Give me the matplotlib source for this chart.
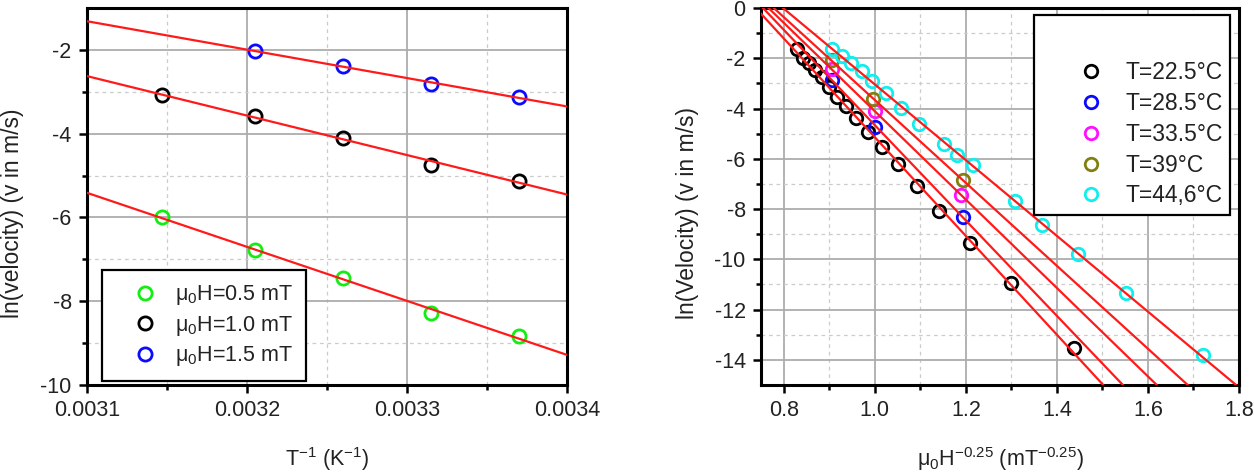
import numpy as np
import matplotlib
matplotlib.use('Agg')
import matplotlib.pyplot as plt
from matplotlib.lines import Line2D
from matplotlib.legend_handler import HandlerLine2D
from matplotlib.ticker import FixedLocator, FormatStrFormatter

plt.rcParams['font.family'] = ['Liberation Sans', 'DejaVu Sans']
plt.rcParams['mathtext.default'] = 'regular'
plt.rcParams['axes.unicode_minus'] = False

# ── datos: panel izquierdo (ln v vs 1/T) ─────────────────────
inv_T = [0.003147, 0.003205, 0.003260, 0.003315, 0.003370]
ln_v_05 = [-6.00, -6.78, -7.45, -8.27, -8.84]
ln_v_10 = [-3.08, -3.59, -4.10, -4.75, -5.12]
inv_T_15 = [0.003205, 0.003260, 0.003315, 0.003370]
ln_v_15 = [-2.02, -2.39, -2.82, -3.12]
campos = ['μ$_0$H=0.5 mT', 'μ$_0$H=1.0 mT', 'μ$_0$H=1.5 mT']

# ── datos: panel derecho (ln v vs H^-1/4) ────────────────────
h_225 = [0.829, 0.842, 0.855, 0.868, 0.883, 0.900, 0.916, 0.936, 0.958,
         0.984, 1.015, 1.051, 1.092, 1.141, 1.209, 1.300, 1.438]
v_225 = [-1.63, -1.97, -2.20, -2.47, -2.76, -3.16, -3.53, -3.90, -4.39,
         -4.93, -5.53, -6.19, -7.08, -8.09, -9.34, -10.93, -13.54]
h_285 = [0.907, 1.000, 1.193]
v_285 = [-2.85, -4.73, -8.30]
h_335 = [0.905, 1.000, 1.190]
v_335 = [-2.44, -4.10, -7.45]
h_39 = [0.905, 0.996, 1.194]
v_39 = [-2.07, -3.63, -6.85]
h_446 = [0.907, 0.927, 0.948, 0.971, 0.993, 1.024, 1.058, 1.096, 1.151,
         1.180, 1.216, 1.308, 1.367, 1.447, 1.551, 1.720]
v_446 = [-1.64, -1.90, -2.17, -2.50, -2.90, -3.39, -3.96, -4.61, -5.41,
         -5.85, -6.25, -7.67, -8.64, -9.77, -11.34, -13.80]
temps = ['T=22.5°C', 'T=28.5°C', 'T=33.5°C', 'T=39°C', 'T=44,6°C']

ROJO = '#ff1a1a'
TXT = '#222222'
FS = 15.5


def estilo(ax):
    for s in ax.spines.values():
        s.set_linewidth(2.2)
        s.set_color('black')
    ax.tick_params(which='major', direction='out', length=6, width=1.8,
                   labelsize=FS, labelcolor=TXT, pad=5,
                   top=False, right=False)
    ax.tick_params(which='minor', direction='out', length=3.5, width=1.8,
                   top=False, right=False)
    ax.grid(which='major', color='#acacac', linewidth=1.3, linestyle='-')
    ax.grid(which='minor', color='#cccccc', linewidth=0.9, linestyle=(0, (3, 3)))
    ax.set_axisbelow(True)


fig = plt.figure(figsize=(12.54, 4.76), dpi=100)

# ── 1. ln(v) vs 1/T ──────────────────────────────────────────
ax = fig.add_axes([87 / 1254, 91 / 476, 480 / 1254, 377 / 476])
series = [(inv_T, ln_v_05, '#11ee11'), (inv_T, ln_v_10, 'black'),
          (inv_T_15, ln_v_15, '#0a0aff')]
xx = np.array([0.0030, 0.0035])
for (x, y, c), lab in zip(series, campos):
    ax.plot(x, y, 'o', mfc='none', mec=c, mew=2.0, ms=9.5, label=lab,
            zorder=3)
    m, b = np.polyfit(x, y, 1)
    ax.plot(xx, m * xx + b, color=ROJO, linewidth=1.6, zorder=4)
ax.set_xlim(0.0031, 0.0034)
ax.set_ylim(-10, -1)
ax.xaxis.set_major_locator(FixedLocator([0.0031, 0.0032, 0.0033, 0.0034]))
ax.xaxis.set_minor_locator(FixedLocator([0.00315, 0.00325, 0.00335]))
ax.xaxis.set_major_formatter(FormatStrFormatter('%.4f'))
ax.yaxis.set_major_locator(FixedLocator([-10, -8, -6, -4, -2]))
ax.yaxis.set_minor_locator(FixedLocator([-9, -7, -5, -3]))
estilo(ax)
ax.set_xlabel('T$^{-1}$ (K$^{-1}$)', fontsize=FS, color=TXT)
ax.set_ylabel('ln(velocity) (v in m/s)', fontsize=FS + 1, color=TXT)
ax.xaxis.set_label_coords(0.5, -0.16)
ax.yaxis.set_label_coords(-0.131, 0.455)
leg = ax.legend(loc='lower left', bbox_to_anchor=(0.031, 0.01),
                borderaxespad=0, fontsize=FS, frameon=True, fancybox=False,
                edgecolor='black', framealpha=1, borderpad=0.6,
                handlelength=2.8, handletextpad=0.0, labelspacing=0.3)
leg.get_frame().set_linewidth(1.6)
for t in leg.get_texts():
    t.set_color(TXT)

# ── 2. ln(v) vs H^-1/4 ───────────────────────────────────────
ax = fig.add_axes([761 / 1254, 91 / 476, 478 / 1254, 377 / 476])
series = [(h_225, v_225, 'black'), (h_285, v_285, '#0a0aff'),
          (h_335, v_335, '#ff11ff'), (h_39, v_39, '#808010'),
          (h_446, v_446, '#11eeee')]
xx = np.array([0.6, 2.0])
for (x, y, c), lab in zip(series, temps):
    ax.plot(x, y, 'o', mfc='none', mec=c, mew=2.0, ms=9.0, label=lab,
            zorder=3)
    m, b = np.polyfit(x, y, 1)
    ax.plot(xx, m * xx + b, color=ROJO, linewidth=1.6, zorder=4)
ax.set_xlim(0.75, 1.8)
ax.set_ylim(-15, 0)
ax.xaxis.set_major_locator(FixedLocator([0.8, 1.0, 1.2, 1.4, 1.6, 1.8]))
ax.xaxis.set_minor_locator(FixedLocator([0.9, 1.1, 1.3, 1.5, 1.7]))
ax.xaxis.set_major_formatter(FormatStrFormatter('%.1f'))
ax.yaxis.set_major_locator(FixedLocator([-14, -12, -10, -8, -6, -4, -2, 0]))
ax.yaxis.set_minor_locator(FixedLocator([-13, -11, -9, -7, -5, -3, -1]))
ax.yaxis.set_major_formatter(FormatStrFormatter('%d'))
estilo(ax)
ax.set_xlabel('μ$_0$H$^{-0.25}$ (mT$^{-0.25}$)', fontsize=FS, color=TXT)
ax.set_ylabel('ln(Velocity) (v in m/s)', fontsize=FS + 1, color=TXT)
ax.xaxis.set_label_coords(0.5, -0.16)
ax.yaxis.set_label_coords(-0.130, 0.455)
leg = ax.legend(loc='upper right', bbox_to_anchor=(0.982, 0.981),
                borderaxespad=0, fontsize=16.5, frameon=True,
                fancybox=False, edgecolor='black', framealpha=1,
                borderpad=0.32, handlelength=3.7, handletextpad=0.0,
                labelspacing=0.34, title=' ', title_fontsize=24,
                handler_map={Line2D: HandlerLine2D(xpad=0.7)})
leg.get_frame().set_linewidth(1.6)
for t in leg.get_texts():
    t.set_color(TXT)

fig.savefig('out.png', dpi=100)
